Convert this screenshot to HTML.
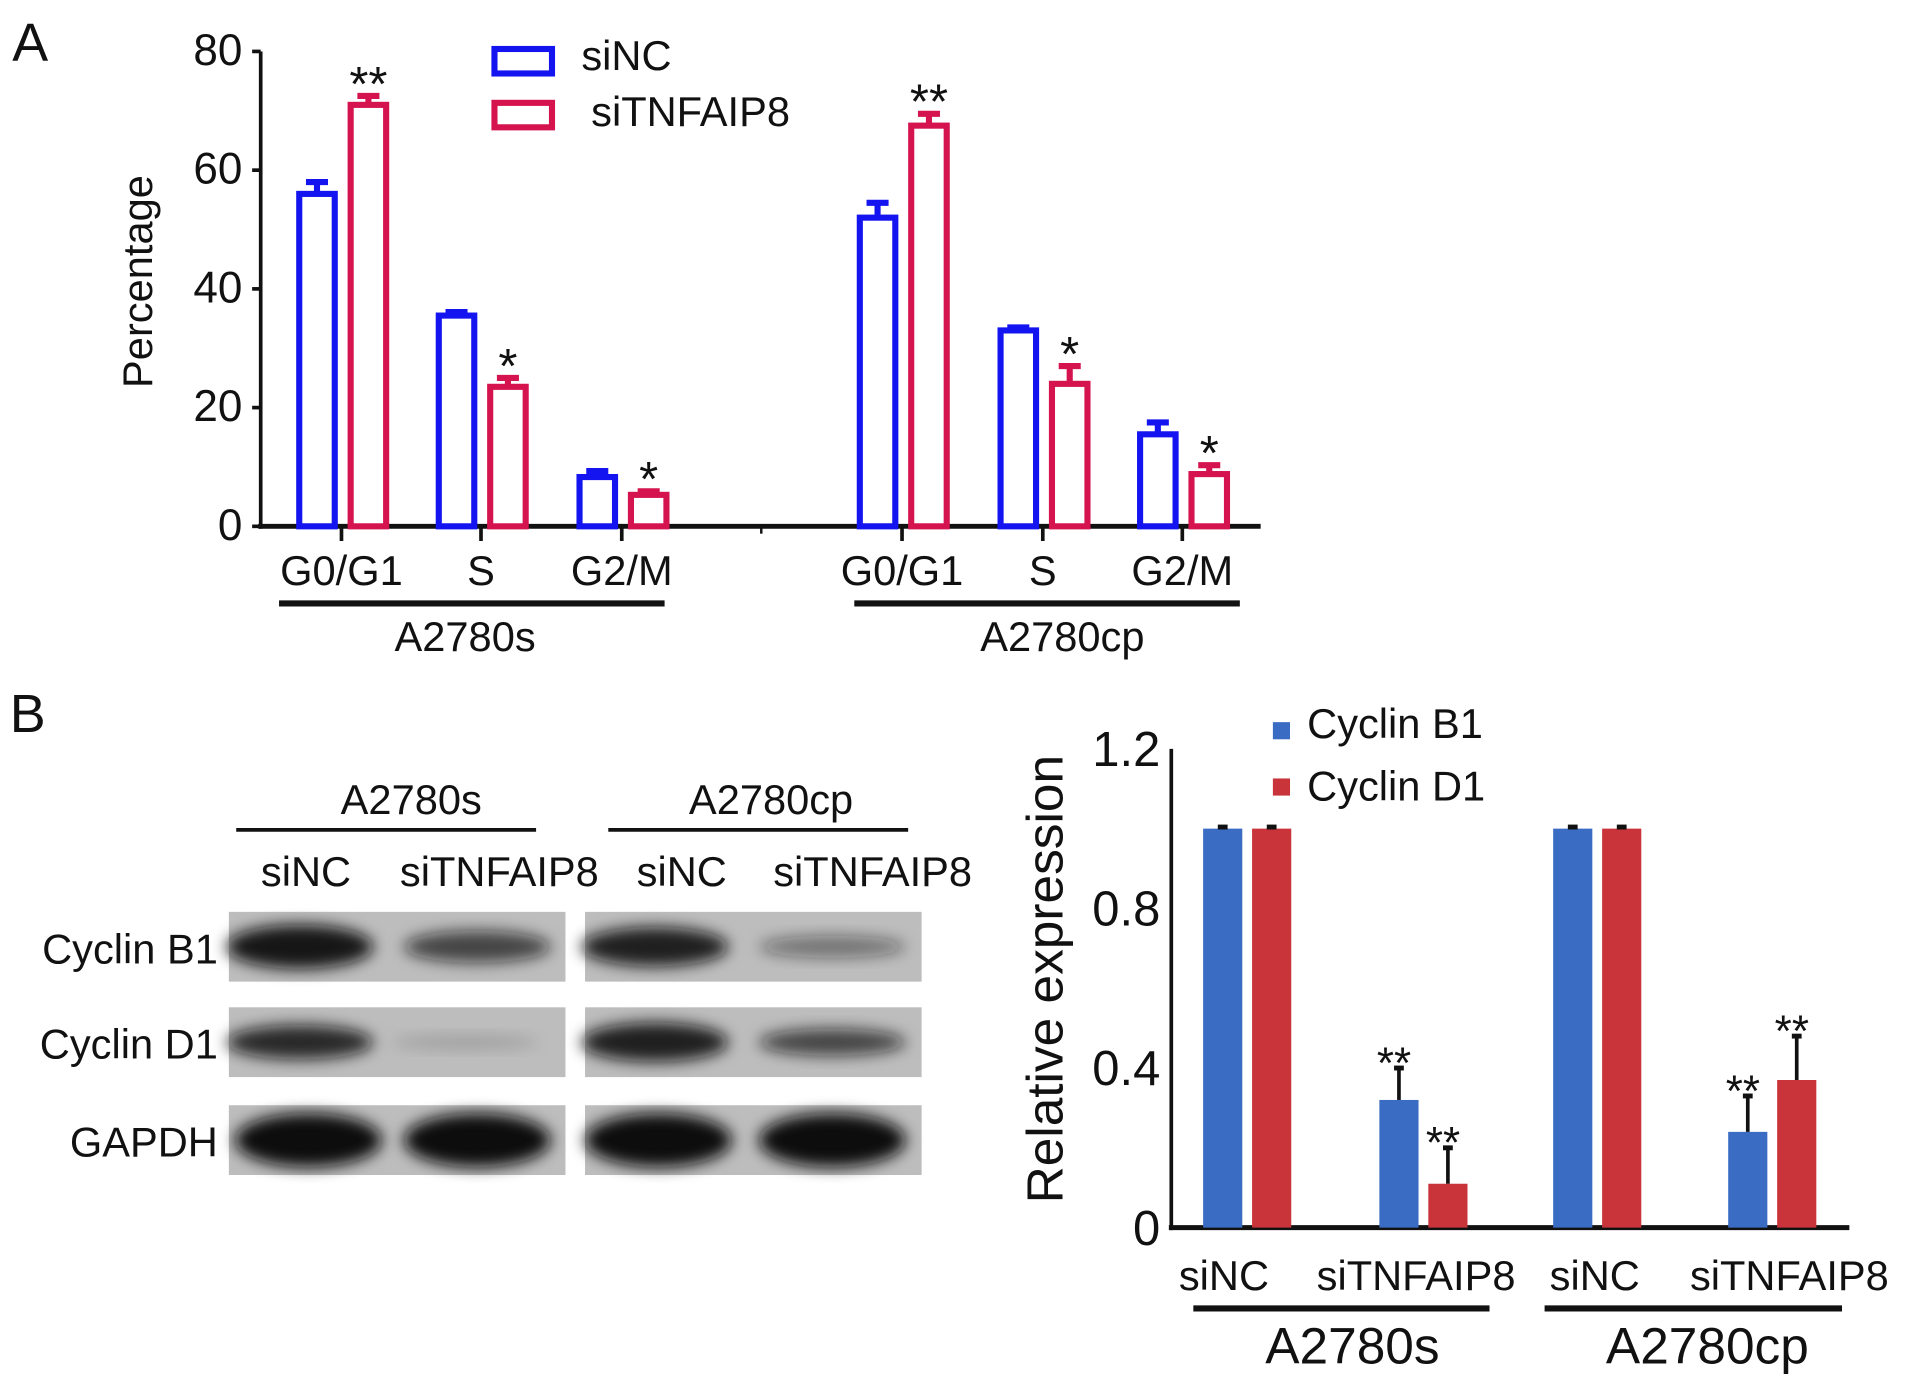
<!DOCTYPE html>
<html><head><meta charset="utf-8"><style>
html,body{margin:0;padding:0;background:#fff}
svg{display:block}
text{font-family:"Liberation Sans",Arial,sans-serif;fill:#111}
</style></head><body>
<svg id="fig" width="1913" height="1388" viewBox="0 0 1563 1134" xmlns="http://www.w3.org/2000/svg">
<defs>
<filter id="blur" x="-20%" y="-50%" width="140%" height="200%"><feGaussianBlur stdDeviation="6"/></filter>
</defs>
<text x="10" y="50" font-size="44">A</text>
<text x="8" y="598" font-size="44">B</text>
<g id="chartA"></g>
<g id="blot"></g>
<g id="chartB"></g>
</svg>
<script>
// ---- Chart A data ----
const phases = ["G0/G1","S","G2/M","G0/G1","S","G2/M"];
const siNCvals = [56, 35.5, 8.3, 52, 33, 15.5];
const siNCerr = [2, 0.6, 1, 2.5, 0.5, 2];
const siTvals = [71, 23.5, 5.3, 67.5, 24, 8.8];
const siTerr = [1.5, 1.5, 0.6, 2, 3, 1.5];
const siTsig = ["**","*","*","**","*","*"];
const yTicksA = [0,20,40,60,80];
// ---- Chart B data ----
const bCats = ["siNC","siTNFAIP8","siNC","siTNFAIP8"];
const cyclinB1 = [1.0, 0.32, 1.0, 0.24];
const cyclinB1err = [0.004, 0.08, 0.004, 0.09];
const cyclinD1 = [1.0, 0.11, 1.0, 0.37];
const cyclinD1err = [0.004, 0.09, 0.004, 0.11];
const b1sig = ["","**","","**"];
const d1sig = ["","**","","**"];
const yTicksB = [0,0.4,0.8,1.2];

const NS="http://www.w3.org/2000/svg";
function mk(parent,tag,attrs,txt){const e=document.createElementNS(NS,tag);for(const k in attrs)e.setAttribute(k,attrs[k]);if(txt!==undefined)e.textContent=txt;parent.appendChild(e);return e;}

// ===== Chart A =====
(function(){
const g=document.getElementById('chartA');
const yA=v=>430-v*4.85;
const catX=[279,393,508,737,852,966]; // category tick positions
const xA=i=>catX[i];
const blue="#1414f0", red="#d4134f";
let e=mk(g,'line',{x1:213,y1:yA(80),x2:213,y2:432,stroke:'#111','stroke-width':3});

e=mk(g,'line',{x1:211,y1:430,x2:1030,y2:430,stroke:'#111','stroke-width':4});

yTicksA.forEach(t=>{
 const l=mk(g,'line',{x1:206,y1:yA(t),x2:213,y2:yA(t),stroke:'#111','stroke-width':3});
 
 const tx=mk(g,'text',{x:198,y:yA(t)+11,'font-size':36,'text-anchor':'end'},String(t));
 
});
const yl=mk(g,'text',{x:0,y:0,'font-size':34,'text-anchor':'middle',transform:'translate(124,230) rotate(-90)'},'Percentage');

mk(g,'line',{x1:622,y1:430,x2:622,y2:436,stroke:'#111','stroke-width':2});
phases.forEach((p,i)=>{
 const cx=xA(i);
 const tk=mk(g,'line',{x1:cx,y1:430,x2:cx,y2:442,stroke:'#111','stroke-width':3});
 
 const lb=mk(g,'text',{x:cx,y:478,'font-size':34,'text-anchor':'middle'},p);
 
 const bw=29;
 [[siNCvals,siNCerr,blue,-20,'bar-sinc'],[siTvals,siTerr,red,22,'bar-sitnfaip8']].forEach(([vals,errs,col,off,name])=>{
  const x=cx+off-bw/2, y=yA(vals[i]);
  const r=mk(g,'rect',{x:x,y:y,width:bw,height:430-y,fill:'#fff',stroke:col,'stroke-width':5});
  
  const ye=yA(vals[i]+errs[i]);
  mk(g,'line',{x1:x+bw/2,y1:y,x2:x+bw/2,y2:ye,stroke:col,'stroke-width':5});
  mk(g,'line',{x1:x+bw/2-9,y1:ye,x2:x+bw/2+9,y2:ye,stroke:col,'stroke-width':5});
 });
 const s=mk(g,'text',{x:cx+22,y:yA(siTvals[i]+siTerr[i])+4,'font-size':40,'text-anchor':'middle'},siTsig[i]);
 
});
[[228,543,380,'A2780s'],[698,1013,868,'A2780cp']].forEach(([a,b,c,t])=>{
 const l=mk(g,'line',{x1:a,y1:493,x2:b,y2:493,stroke:'#111','stroke-width':5});
 
 const tx=mk(g,'text',{x:c,y:532,'font-size':34,'text-anchor':'middle'},t);
 
});
[[blue,40,'siNC',475,57],[red,84,'siTNFAIP8',483,103]].forEach(([col,y,t,tx,ty])=>{
 const r=mk(g,'rect',{x:404,y:y,width:47,height:20,fill:'#fff',stroke:col,'stroke-width':5});
 
 const te=mk(g,'text',{x:tx,y:ty,'font-size':34},t);
 
});
})();

// ===== Western blot =====
(function(){
const g=document.getElementById('blot');
[[336,'A2780s',193,438],[630,'A2780cp',497,742]].forEach(([c,t,a,b])=>{
 const tx=mk(g,'text',{x:c,y:665,'font-size':34,'text-anchor':'middle'},t);
 
 const l=mk(g,'line',{x1:a,y1:678,x2:b,y2:678,stroke:'#111','stroke-width':3});
 
});
[[250,'siNC'],[408,'siTNFAIP8'],[557,'siNC'],[713,'siTNFAIP8']].forEach(([c,t])=>{
 const tx=mk(g,'text',{x:c,y:724,'font-size':34,'text-anchor':'middle'},t);
 
});
const rows=[['Cyclin B1',745,57,[[245,0.95,18],[390,0.7,13],[535,0.9,16],[680,0.45,9]]],
 ['Cyclin D1',823,57,[[245,0.85,14],[380,0.15,6],[535,0.9,16],[680,0.7,11]]],
 ['GAPDH',903,57,[[252,1,22],[390,1,22],[538,1,22],[680,1,22]]]];
rows.forEach(([lab,y,h,bands])=>{
 const tx=mk(g,'text',{x:178,y:y+42,'font-size':34,'text-anchor':'end'},lab);
 
 [[187,275],[478,275]].forEach(([x,w])=>{
  const r=mk(g,'rect',{x:x,y:y,width:w,height:h,fill:'#bdbdbd'});
  
 });
 bands.forEach(([cx,op,ry])=>{
  const b=mk(g,'ellipse',{cx:cx,cy:y+h/2,rx:60,ry:ry,fill:'#111','fill-opacity':op,filter:'url(#blur)'});
  
 });
});
})();

// ===== Chart B =====
(function(){
const g=document.getElementById('chartB');
const yB=v=>1003-v*326;
const catX=[1019,1163,1305,1448];
const xB=i=>catX[i];
const blue="#3a6cc4", red="#c8343a";
let e=mk(g,'line',{x1:957,y1:yB(1.2),x2:957,y2:1005,stroke:'#111','stroke-width':3});

e=mk(g,'line',{x1:955,y1:1003,x2:1511,y2:1003,stroke:'#111','stroke-width':4});

yTicksB.forEach(t=>{
 const tx=mk(g,'text',{x:948,y:yB(t)+14,'font-size':40,'text-anchor':'end'},String(t));
 
});
const yl=mk(g,'text',{x:0,y:0,'font-size':42,'text-anchor':'middle',transform:'translate(868,800) rotate(-90)'},'Relative expression');

bCats.forEach((c,i)=>{
 const bw=32;
 [[cyclinB1,cyclinB1err,b1sig,blue,-20,'bar-cyclin-b1'],[cyclinD1,cyclinD1err,d1sig,red,20,'bar-cyclin-d1']].forEach(([vals,errs,sig,col,off,name])=>{
  const cx=xB(i)+off, y=yB(vals[i]);
  const r=mk(g,'rect',{x:cx-bw/2,y:y,width:bw,height:1003-y,fill:col});
  
  const ye=yB(vals[i]+errs[i]);
  mk(g,'line',{x1:cx,y1:y,x2:cx,y2:ye,stroke:'#111','stroke-width':3});
  mk(g,'line',{x1:cx-4,y1:ye,x2:cx+4,y2:ye,stroke:'#111','stroke-width':4});
  if(sig[i]){const s=mk(g,'text',{x:cx-4,y:ye+8,'font-size':36,'text-anchor':'middle'},sig[i]);
   }
 });
});
[[1000,'siNC'],[1157,'siTNFAIP8'],[1303,'siNC'],[1462,'siTNFAIP8']].forEach(([c,t])=>{
 const tx=mk(g,'text',{x:c,y:1054,'font-size':34,'text-anchor':'middle'},t);
 
});
[[975,1217,1105,'A2780s'],[1262,1505,1395,'A2780cp']].forEach(([a,b,c,t])=>{
 const l=mk(g,'line',{x1:a,y1:1069,x2:b,y2:1069,stroke:'#111','stroke-width':5});
 
 const tx=mk(g,'text',{x:c,y:1114,'font-size':42,'text-anchor':'middle'},t);
 
});
[[blue,590,'Cyclin B1',603],[red,636,'Cyclin D1',654]].forEach(([col,y,t,ty])=>{
 const r=mk(g,'rect',{x:1040,y:y,width:14,height:14,fill:col});
 
 const te=mk(g,'text',{x:1068,y:ty,'font-size':34},t);
 
});
})();
</script>
</body></html>
